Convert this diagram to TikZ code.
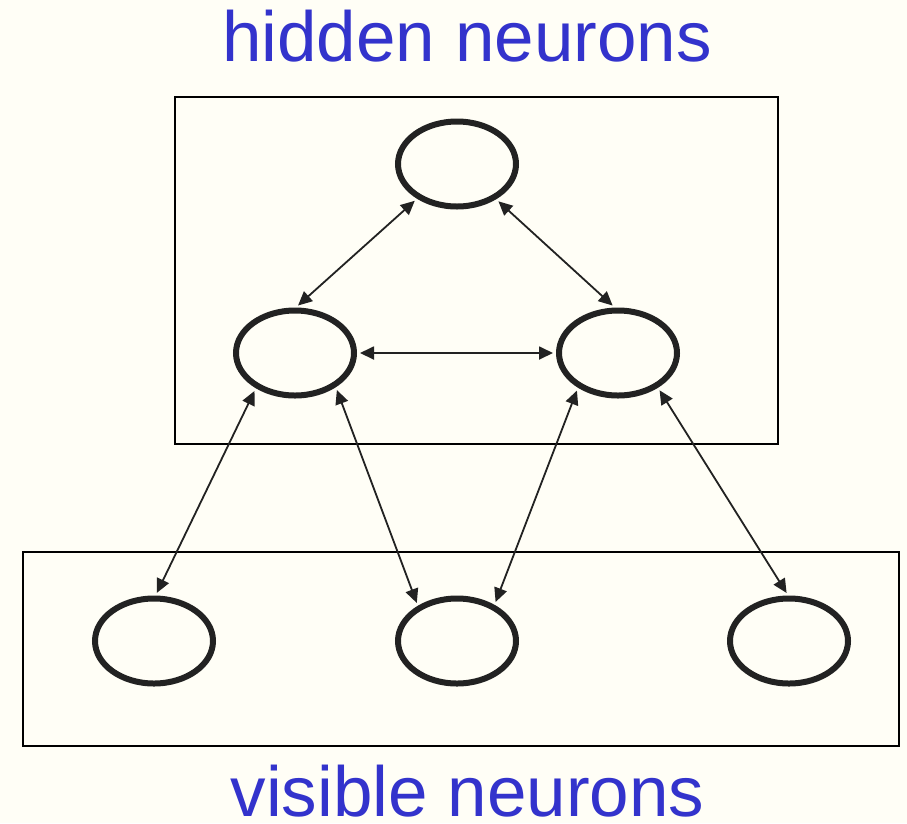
\documentclass[tikz,border=0pt]{standalone}
\usepackage{fontspec}
\setmainfont{Liberation Sans}
\usepackage{tikz}
\usetikzlibrary{positioning, shapes.geometric, arrows.meta}
\definecolor{paper}{HTML}{FFFEF6}
\definecolor{labcol}{HTML}{3333CC}
\definecolor{inkcol}{HTML}{222222}

\begin{document}
\begin{tikzpicture}[x=1pt, y=-1pt,
    neuron/.style={draw=inkcol, ellipse, line width=6pt, minimum width=118pt, minimum height=85pt, inner sep=0pt},
    link/.style={draw=inkcol, line width=1.8pt, {Triangle[length=14pt, width=13pt]}-{Triangle[length=14pt, width=13pt]}, shorten <=3pt, shorten >=3pt},
    layerbox/.style={draw=black, line width=2.4pt},
    layerlabel/.style={text=labcol, font=\fontsize{71}{71}\selectfont, anchor=base, inner sep=0pt}]
  \fill[paper] (0,0) rectangle (907,823);
  \useasboundingbox (0,0) rectangle (907,823);

  % the two layers
  \draw[layerbox] (175,97) rectangle (778,444);
  \draw[layerbox] (23,552) rectangle (899,746);
  \node[layerlabel] (hidlab) at (467,61) {hidden neurons};
  \node[layerlabel] (vislab) at (467.5,816) {visible neurons};

  % hidden units
  \node[neuron] (h1) at (457,164) {};
  \node[neuron] (h2) at (295,353) {};
  \node[neuron] (h3) at (618,353) {};
  % visible units
  \node[neuron] (v1) at (154,641) {};
  \node[neuron] (v2) at (457,641) {};
  \node[neuron] (v3) at (789,641) {};

  % symmetric connections
  \draw[link] (h1.221) -- (h2.89);
  \draw[link] (h1.318) -- (h3.94);
  \draw[link] (h2.0) -- (h3.180);
  \draw[link] (h2.222) -- (v1.88);
  \draw[link] (h2.320) -- (v2.138);
  \draw[link] (h3.221) -- (v2.44);
  \draw[link] (h3.319) -- (v3.91);
\end{tikzpicture}
\end{document}
